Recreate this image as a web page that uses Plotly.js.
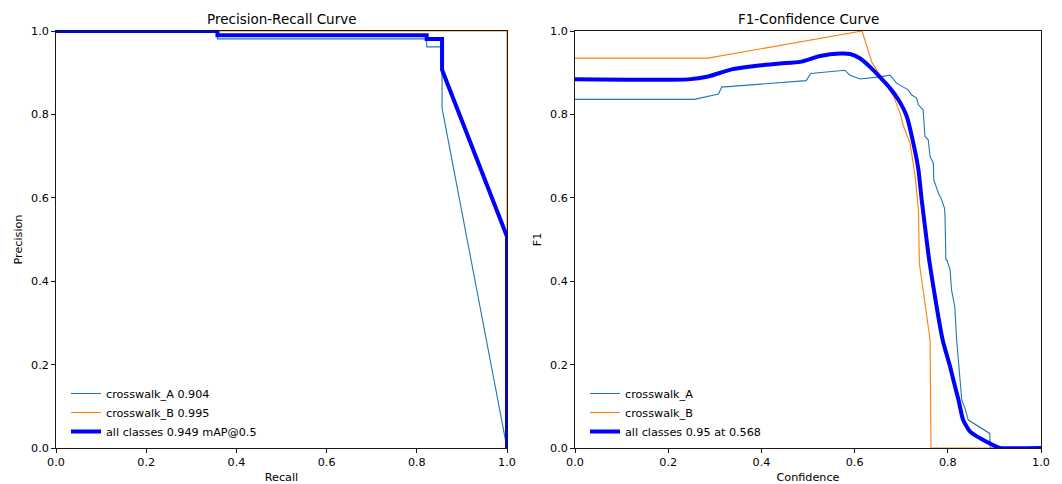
<!DOCTYPE html>
<html>
<head>
<meta charset="utf-8">
<script src="https://cdn.plot.ly/plotly-3.0.1.min.js"></script>
<style>html,body{margin:0;padding:0;background:#fff;}#chart{width:1062px;height:484px;}</style>
</head>
<body>
<div id="chart"></div>
<script>
// ---- Precision-Recall data ----
const prA_recall = [0, 0.358, 0.358, 0.822, 0.822, 0.856, 0.856, 1.0];
const prA_precision = [1.0, 1.0, 0.981, 0.981, 0.962, 0.962, 0.815, 0.0];
const prB_recall = [0, 1.0, 1.0];
const prB_precision = [1.0, 1.0, 0.0];
const prAll_recall = [0, 0.358, 0.358, 0.822, 0.822, 0.856, 0.856, 1.0, 1.0];
const prAll_precision = [1.0, 1.0, 0.990, 0.990, 0.981, 0.981, 0.907, 0.507, 0.0];
const prNames = ["crosswalk_A 0.904", "crosswalk_B 0.995", "all classes 0.949 mAP@0.5"];

// ---- F1-Confidence data ----
const f1A_conf = [0, 0.256, 0.308, 0.315, 0.322, 0.496, 0.506, 0.579, 0.590, 0.612, 0.654, 0.676, 0.690, 0.715, 0.722, 0.733, 0.737, 0.747, 0.751, 0.758, 0.762, 0.769, 0.770, 0.780, 0.787, 0.793, 0.794, 0.796, 0.798, 0.805, 0.808, 0.815, 0.819, 0.824, 0.826, 0.830, 0.837, 0.844, 0.890, 0.891, 1.0];
const f1A_val = [0.836, 0.836, 0.849, 0.866, 0.866, 0.881, 0.898, 0.906, 0.894, 0.885, 0.890, 0.894, 0.875, 0.859, 0.847, 0.839, 0.823, 0.811, 0.747, 0.739, 0.699, 0.683, 0.643, 0.611, 0.595, 0.575, 0.555, 0.451, 0.451, 0.427, 0.379, 0.339, 0.259, 0.187, 0.163, 0.115, 0.095, 0.067, 0.035, 0.0, 0.0];
const f1B_conf = [0, 0.285, 0.616, 0.637, 0.660, 0.683, 0.697, 0.705, 0.719, 0.730, 0.737, 0.739, 0.762, 0.764, 1.0];
const f1B_val = [0.935, 0.935, 1.0, 0.925, 0.885, 0.845, 0.805, 0.771, 0.731, 0.651, 0.571, 0.443, 0.259, 0.0, 0.0];
const f1All_conf = [0, 0.243, 0.286, 0.336, 0.386, 0.44, 0.483, 0.526, 0.569, 0.590, 0.612, 0.633, 0.654, 0.676, 0.694, 0.712, 0.726, 0.737, 0.744, 0.751, 0.760, 0.776, 0.789, 0.805, 0.812, 0.823, 0.833, 0.848, 0.865, 0.883, 0.905, 0.912, 1.0];
const f1All_val = [0.884, 0.884, 0.891, 0.908, 0.916, 0.922, 0.926, 0.940, 0.946, 0.945, 0.934, 0.914, 0.890, 0.863, 0.835, 0.795, 0.731, 0.667, 0.595, 0.531, 0.451, 0.339, 0.259, 0.195, 0.163, 0.115, 0.067, 0.039, 0.026, 0.015, 0.003, 0.0, 0.0];
const f1Names = ["crosswalk_A", "crosswalk_B", "all classes 0.95 at 0.568"];

const tickVals = [0, 0.2, 0.4, 0.6, 0.8, 1.0];
const tickText = ["0.0", "0.2", "0.4", "0.6", "0.8", "1.0"];

const cA = "#1f77b4", cB = "#ff7f0e", cAll = "#0000ff";
const FONT = "DejaVu Sans, sans-serif";

const traces = [
  {x: prA_recall, y: prA_precision, name: prNames[0], mode: "lines", line: {color: cA, width: 1.1}, xaxis: "x", yaxis: "y", legend: "legend"},
  {x: prB_recall, y: prB_precision, name: prNames[1], mode: "lines", line: {color: cB, width: 1.1}, xaxis: "x", yaxis: "y", legend: "legend"},
  {x: prAll_recall, y: prAll_precision, name: prNames[2], mode: "lines", line: {color: cAll, width: 4}, xaxis: "x", yaxis: "y", legend: "legend"},
  {x: f1A_conf, y: f1A_val, name: f1Names[0], mode: "lines", line: {color: cA, width: 1.1, shape: "linear"}, xaxis: "x2", yaxis: "y2", legend: "legend2"},
  {x: f1B_conf, y: f1B_val, name: f1Names[1], mode: "lines", line: {color: cB, width: 1.1}, xaxis: "x2", yaxis: "y2", legend: "legend2"},
  {x: f1All_conf, y: f1All_val, name: f1Names[2], mode: "lines", line: {color: cAll, width: 4, shape: "spline", smoothing: 0.6}, xaxis: "x2", yaxis: "y2", legend: "legend2"}
];

function axis(domain, anchor, title, standoff) {
  return {
    domain: domain, anchor: anchor, range: [0, 1], fixedrange: true,
    tickvals: tickVals, ticktext: tickText, ticks: "outside", ticklen: 4, tickwidth: 0.9, tickcolor: "#000",
    showline: true, mirror: true, linecolor: "#000", linewidth: 0.9,
    showgrid: false, zeroline: false, automargin: false,
    tickfont: {family: FONT, size: 11.2, color: "#000"},
    title: {text: title, font: {family: FONT, size: 11.2, color: "#000"}, standoff: standoff}
  };
}

const yDom = [36/484, 453/484];
const layout = {
  width: 1062, height: 484,
  margin: {l: 0, r: 0, t: 0, b: 0},
  paper_bgcolor: "#fff", plot_bgcolor: "#fff",
  showlegend: true,
  font: {family: FONT, color: "#000"},
  xaxis: axis([56/1062, 507/1062], "y", "Recall", 4),
  yaxis: axis(yDom, "x", "Precision", 6),
  xaxis2: axis([575/1062, 1041/1062], "y2", "Confidence", 4),
  yaxis2: axis(yDom, "x2", "F1", 6),
  legend: {x: 66/1062, y: 1 - 379/484, xanchor: "left", yanchor: "top", bgcolor: "rgba(0,0,0,0)", borderwidth: 0,
           font: {family: FONT, size: 11.2, color: "#000"}, tracegroupgap: 0, itemwidth: 30},
  legend2: {x: 585/1062, y: 1 - 379/484, xanchor: "left", yanchor: "top", bgcolor: "rgba(0,0,0,0)", borderwidth: 0,
           font: {family: FONT, size: 11.2, color: "#000"}, tracegroupgap: 0, itemwidth: 30},
  annotations: [
    {text: "Precision-Recall Curve", xref: "x domain", yref: "paper", x: 0.5, y: 1 - 19/484, xanchor: "center", yanchor: "middle", showarrow: false, font: {family: FONT, size: 13.5, color: "#000"}},
    {text: "F1-Confidence Curve", xref: "x2 domain", yref: "paper", x: 0.5, y: 1 - 19/484, xanchor: "center", yanchor: "middle", showarrow: false, font: {family: FONT, size: 13.5, color: "#000"}}
  ]
};

Plotly.newPlot("chart", traces, layout, {displayModeBar: false, staticPlot: true});
</script>
</body>
</html>
